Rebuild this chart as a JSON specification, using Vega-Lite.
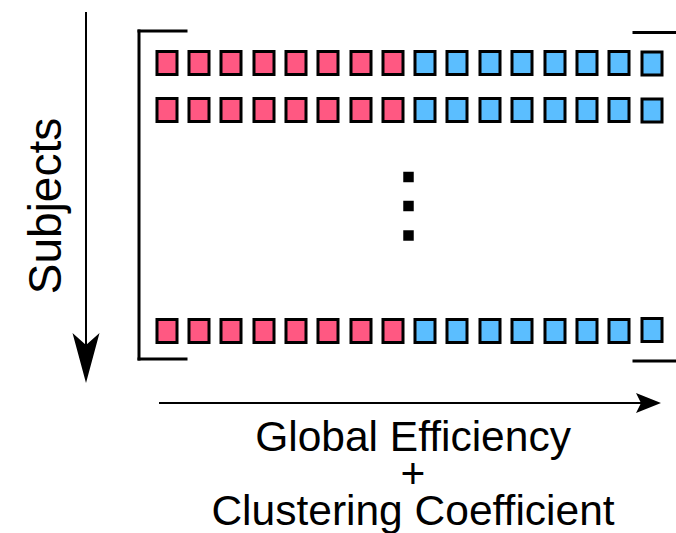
{
  "$schema": "https://vega.github.io/schema/vega-lite/v6.json",
  "width": 676,
  "height": 533,
  "autosize": {"type": "none"},
  "padding": 0,
  "background": "white",
  "config": {"view": {"stroke": null}},
  "datasets": {
    "segs": [
      {"x": 139, "y": 31, "x2": 139, "y2": 359},
      {"x": 139, "y": 31, "x2": 186, "y2": 31},
      {"x": 139, "y": 359, "x2": 186, "y2": 359},
      {"x": 634, "y": 32.5, "x2": 676, "y2": 32.5},
      {"x": 634, "y": 361, "x2": 676, "y2": 361}
    ],
    "shafts": [
      {"x": 86, "y": 12, "x2": 86, "y2": 350},
      {"x": 159, "y": 403, "x2": 645, "y2": 403}
    ],
    "squares": [
      {"x": 167, "y": 63, "g": "GE"}, {"x": 199, "y": 63, "g": "GE"}, {"x": 231, "y": 63, "g": "GE"}, {"x": 264, "y": 63, "g": "GE"},
      {"x": 296, "y": 63, "g": "GE"}, {"x": 328, "y": 63, "g": "GE"}, {"x": 361, "y": 63, "g": "GE"}, {"x": 393, "y": 63, "g": "GE"},
      {"x": 425, "y": 63, "g": "CC"}, {"x": 457, "y": 63, "g": "CC"}, {"x": 490, "y": 63, "g": "CC"}, {"x": 522, "y": 63, "g": "CC"},
      {"x": 555, "y": 63, "g": "CC"}, {"x": 587, "y": 63, "g": "CC"}, {"x": 619, "y": 63, "g": "CC"}, {"x": 652, "y": 63.5, "g": "CC"},
      {"x": 167, "y": 110, "g": "GE"}, {"x": 199, "y": 110, "g": "GE"}, {"x": 231, "y": 110, "g": "GE"}, {"x": 264, "y": 110, "g": "GE"},
      {"x": 296, "y": 110, "g": "GE"}, {"x": 328, "y": 110, "g": "GE"}, {"x": 361, "y": 110, "g": "GE"}, {"x": 393, "y": 110, "g": "GE"},
      {"x": 425, "y": 110, "g": "CC"}, {"x": 457, "y": 110, "g": "CC"}, {"x": 490, "y": 110, "g": "CC"}, {"x": 522, "y": 110, "g": "CC"},
      {"x": 555, "y": 110, "g": "CC"}, {"x": 587, "y": 110, "g": "CC"}, {"x": 619, "y": 110, "g": "CC"}, {"x": 652, "y": 110.5, "g": "CC"},
      {"x": 167, "y": 331, "g": "GE"}, {"x": 199, "y": 331, "g": "GE"}, {"x": 231, "y": 331, "g": "GE"}, {"x": 264, "y": 331, "g": "GE"},
      {"x": 296, "y": 331, "g": "GE"}, {"x": 328, "y": 331, "g": "GE"}, {"x": 361, "y": 331, "g": "GE"}, {"x": 393, "y": 331, "g": "GE"},
      {"x": 425, "y": 331, "g": "CC"}, {"x": 457, "y": 331, "g": "CC"}, {"x": 490, "y": 331, "g": "CC"}, {"x": 522, "y": 331, "g": "CC"},
      {"x": 555, "y": 331, "g": "CC"}, {"x": 587, "y": 331, "g": "CC"}, {"x": 619, "y": 331, "g": "CC"}, {"x": 652, "y": 330, "g": "CC"}
    ],
    "dots": [
      {"x": 408.5, "y": 177},
      {"x": 408.5, "y": 206},
      {"x": 408.5, "y": 235.5}
    ],
    "downhead": [{"x": 86, "y": 358}],
    "righthead": [{"x": 648.5, "y": 403}],
    "labels": [
      {"x": 413, "y": 451, "t": ["Global Efficiency", "+", "Clustering Coefficient"]}
    ],
    "ylabel": [{"x": 61, "y": 206, "t": "Subjects"}]
  },
  "encoding": {
    "x": {"field": "x", "type": "quantitative", "scale": {"domain": [0, 676], "nice": false, "zero": false}, "axis": null},
    "y": {"field": "y", "type": "quantitative", "scale": {"domain": [0, 533], "nice": false, "zero": false, "reverse": true}, "axis": null}
  },
  "layer": [
    {
      "data": {"name": "segs"},
      "mark": {"type": "rule", "stroke": "black", "strokeWidth": 3, "strokeCap": "square"},
      "encoding": {"x2": {"field": "x2"}, "y2": {"field": "y2"}}
    },
    {
      "data": {"name": "shafts"},
      "mark": {"type": "rule", "stroke": "black", "strokeWidth": 2},
      "encoding": {"x2": {"field": "x2"}, "y2": {"field": "y2"}}
    },
    {
      "data": {"name": "squares"},
      "mark": {"type": "point", "filled": true, "shape": "M-0.87,-1L0.87,-1L0.87,1L-0.87,1Z", "size": 529, "stroke": "black", "strokeWidth": 3, "opacity": 1, "fillOpacity": 1, "strokeOpacity": 1},
      "encoding": {
        "fill": {"field": "g", "type": "nominal", "scale": {"domain": ["GE", "CC"], "range": ["#FF5882", "#5BBEFF"]}, "legend": null}
      }
    },
    {
      "data": {"name": "dots"},
      "mark": {"type": "point", "filled": true, "shape": "square", "size": 110, "fill": "black", "opacity": 1}
    },
    {
      "data": {"name": "downhead"},
      "mark": {"type": "point", "filled": true, "shape": "M0,1L-0.54,-1L0,-0.52L0.54,-1Z", "size": 2500, "fill": "black", "opacity": 1}
    },
    {
      "data": {"name": "righthead"},
      "mark": {"type": "point", "filled": true, "shape": "M1,0L-1,-0.8L-0.6,0L-1,0.8Z", "size": 625, "fill": "black", "opacity": 1}
    },
    {
      "data": {"name": "labels"},
      "mark": {"type": "text", "font": "Liberation Sans", "fontSize": 42.5, "lineHeight": 37, "align": "center", "baseline": "alphabetic", "fill": "black"},
      "encoding": {"text": {"field": "t"}}
    },
    {
      "data": {"name": "ylabel"},
      "mark": {"type": "text", "font": "Liberation Sans", "fontSize": 46, "align": "center", "baseline": "alphabetic", "angle": 270, "fill": "black"},
      "encoding": {"text": {"field": "t"}}
    }
  ]
}
